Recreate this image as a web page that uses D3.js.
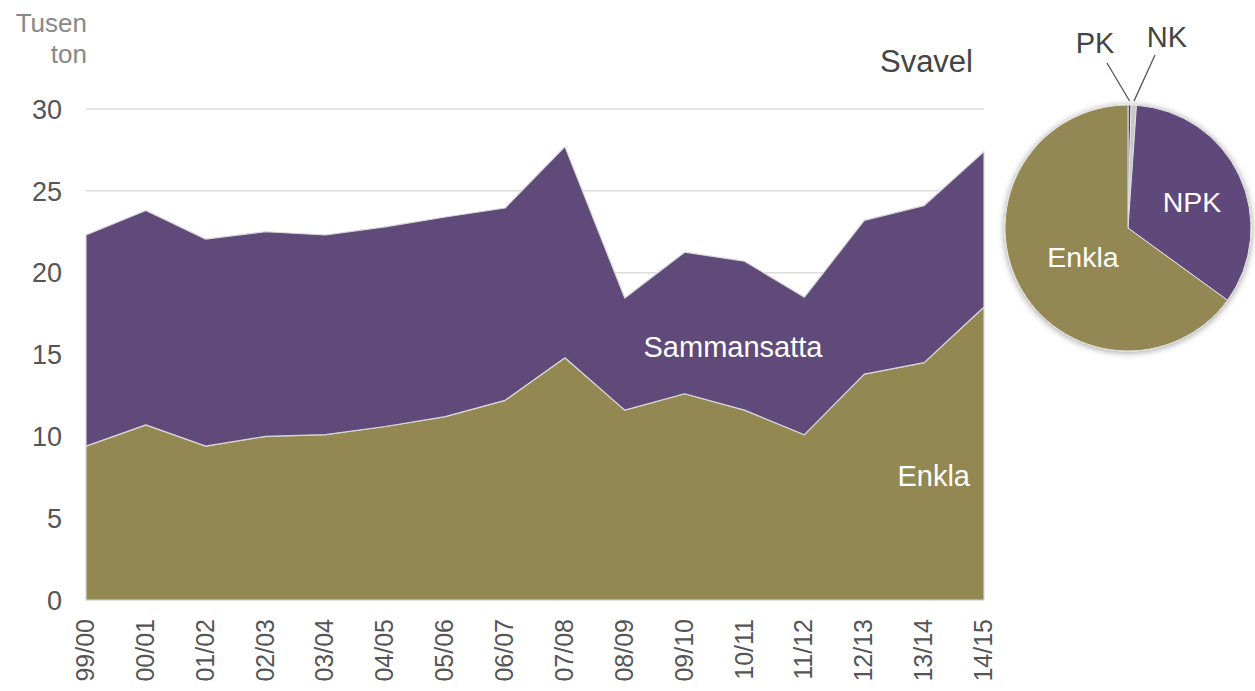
<!DOCTYPE html>
<html>
<head>
<meta charset="utf-8">
<script src="https://cdn.jsdelivr.net/npm/d3@7"></script>
<style>
  body { margin: 0; background: #fff; }
  svg text { font-family: "Liberation Sans", Arial, sans-serif; }
</style>
</head>
<body>
<div id="app"></div>
<script>
// Svavel, tusen ton
const years = ['99/00', '00/01', '01/02', '02/03', '03/04', '04/05', '05/06', '06/07',
  '07/08', '08/09', '09/10', '10/11', '11/12', '12/13', '13/14', '14/15'];
const enkla = [9.4, 10.7, 9.4, 10.0, 10.1, 10.6, 11.2, 12.2, 14.8, 11.6, 12.6, 11.6, 10.1, 13.8, 14.5, 17.9];
const totalt = [22.3, 23.8, 22.05, 22.5, 22.3, 22.8, 23.4, 23.95, 27.7, 18.45, 21.25, 20.7, 18.5, 23.2, 24.1, 27.4];
const sammansatta = totalt.map((t, i) => +(t - enkla[i]).toFixed(2));
const yTicks = [0, 5, 10, 15, 20, 25, 30];

// pie, share in percent (latest year)
const pieLabels = ['PK', 'NK', 'NPK', 'Enkla'];
const pieValues = [0.4, 0.7, 33.9, 65.0];

const PURPLE = '#5f4a7a';
const OLIVE = '#938852';

const width = 1255;
const height = 691;
const margin = { top: 109, right: 271, bottom: 91, left: 86 };

const svg = d3.select('#app')
  .append('svg')
  .attr('width', width)
  .attr('height', height);

const x = d3.scalePoint()
  .domain(years)
  .range([margin.left, width - margin.right]);

const y = d3.scaleLinear()
  .domain([0, 30])
  .range([height - margin.bottom, margin.top]);

// grid
svg.append('g')
  .selectAll('line')
  .data(yTicks)
  .join('line')
  .attr('x1', margin.left)
  .attr('x2', width - margin.right)
  .attr('y1', d => y(d))
  .attr('y2', d => y(d))
  .attr('stroke', '#dcdcdc')
  .attr('stroke-width', 1.5);

const rows = years.map((yr, i) => ({ year: yr, enkla: enkla[i], sammansatta: sammansatta[i] }));
const stacked = d3.stack().keys(['enkla', 'sammansatta'])(rows);

const area = d3.area()
  .x(d => x(d.data.year))
  .y0(d => y(d[0]))
  .y1(d => y(d[1]));

svg.append('g')
  .selectAll('path')
  .data(stacked)
  .join('path')
  .attr('d', area)
  .attr('fill', d => d.key === 'enkla' ? OLIVE : PURPLE)
  .attr('stroke', '#d8d8d8')
  .attr('stroke-width', 1.2)
  .attr('stroke-linejoin', 'round');

// y axis labels
svg.append('g')
  .selectAll('text')
  .data(yTicks)
  .join('text')
  .attr('x', 62)
  .attr('y', d => y(d))
  .attr('dy', '0.36em')
  .attr('text-anchor', 'end')
  .attr('font-size', 27)
  .attr('fill', '#555')
  .text(d => d);

svg.append('text')
  .attr('text-anchor', 'end')
  .attr('font-size', 26)
  .attr('fill', '#888')
  .selectAll('tspan')
  .data(['Tusen', 'ton'])
  .join('tspan')
  .attr('x', 87)
  .attr('y', (d, i) => 32 + i * 31)
  .text(d => d);

// x axis labels (rotated)
svg.append('g')
  .selectAll('text')
  .data(years)
  .join('text')
  .attr('transform', d => `translate(${x(d) + 8},${619}) rotate(-90)`)
  .attr('text-anchor', 'end')
  .attr('font-size', 25)
  .attr('fill', '#555')
  .text(d => d);

// chart labels
svg.append('text')
  .attr('x', 973).attr('y', 72)
  .attr('text-anchor', 'end')
  .attr('font-size', 31)
  .attr('fill', '#444')
  .text('Svavel');

svg.append('text')
  .attr('x', 733).attr('y', 357)
  .attr('text-anchor', 'middle')
  .attr('font-size', 29)
  .attr('fill', '#fff')
  .text('Sammansatta');

svg.append('text')
  .attr('x', 970).attr('y', 486)
  .attr('text-anchor', 'end')
  .attr('font-size', 29)
  .attr('fill', '#fff')
  .text('Enkla');

// pie
const cx = 1128, cy = 228, r = 123;
const defs = svg.append('defs');
const blur = defs.append('filter').attr('id', 'shadow')
  .attr('x', '-20%').attr('y', '-20%').attr('width', '140%').attr('height', '140%');
blur.append('feGaussianBlur').attr('in', 'SourceAlpha').attr('stdDeviation', 3.5);
blur.append('feOffset').attr('dx', 0).attr('dy', 1).attr('result', 'b');
blur.append('feComponentTransfer').append('feFuncA').attr('type', 'linear').attr('slope', 0.4);
const merge = blur.append('feMerge');
merge.append('feMergeNode');
merge.append('feMergeNode').attr('in', 'SourceGraphic');

const pieColors = { PK: '#4a4a5a', NK: '#c8c8c8', NPK: PURPLE, Enkla: OLIVE };
const pieData = d3.pie().sort(null)(pieValues);
const arc = d3.arc().innerRadius(0).outerRadius(r);

const pg = svg.append('g')
  .attr('transform', `translate(${cx},${cy})`)
  .attr('filter', 'url(#shadow)');

pg.selectAll('path')
  .data(pieData)
  .join('path')
  .attr('d', arc)
  .attr('fill', (d, i) => pieColors[pieLabels[i]])
  .attr('stroke', '#e0e0e0')
  .attr('stroke-width', 1);

const inside = { NPK: [1192, 212], Enkla: [1083, 267] };
svg.append('g')
  .selectAll('text')
  .data(['NPK', 'Enkla'])
  .join('text')
  .attr('x', d => inside[d][0])
  .attr('y', d => inside[d][1])
  .attr('text-anchor', 'middle')
  .attr('font-size', 28.5)
  .attr('fill', '#fff')
  .text(d => d);

// leader labels for the tiny slices
const outside = [
  { label: 'PK', slice: 0, tx: 1095, ty: 53, lx: 1107, ly: 63 },
  { label: 'NK', slice: 1, tx: 1167, ty: 47, lx: 1155, ly: 55 }
];
outside.forEach(o => {
  const p = pieData[o.slice];
  const a = (p.startAngle + p.endAngle) / 2;
  const ex = cx + Math.sin(a) * (r + 4);
  const ey = cy - Math.cos(a) * (r + 4);
  svg.append('line')
    .attr('x1', o.lx).attr('y1', o.ly)
    .attr('x2', ex).attr('y2', ey)
    .attr('stroke', '#555')
    .attr('stroke-width', 1.3);
  svg.append('text')
    .attr('x', o.tx).attr('y', o.ty)
    .attr('text-anchor', 'middle')
    .attr('font-size', 29)
    .attr('fill', '#444')
    .text(o.label);
});
</script>
</body>
</html>
